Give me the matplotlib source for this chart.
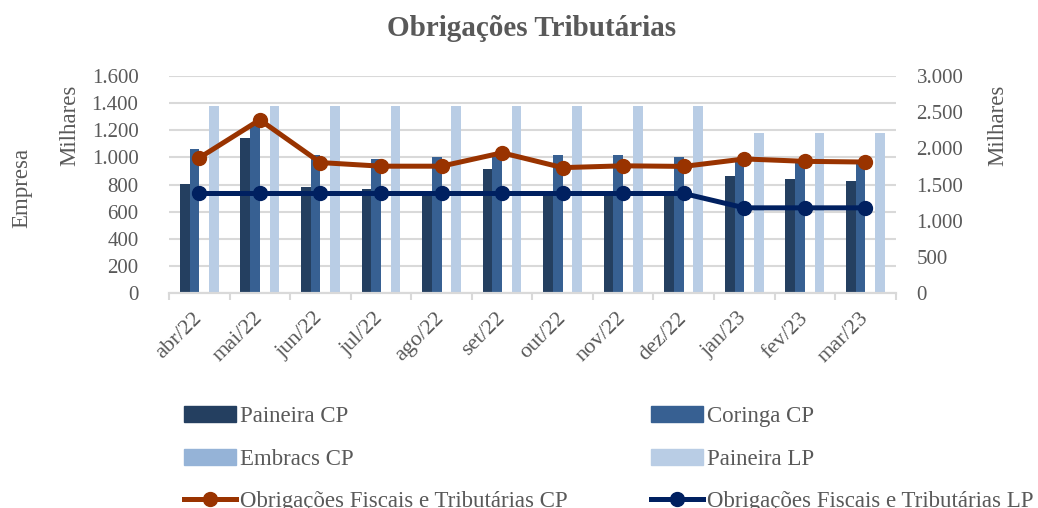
import numpy as np
import matplotlib
matplotlib.use('Agg')
import matplotlib.pyplot as plt
from matplotlib.patches import Patch
from matplotlib.lines import Line2D

# data (milhares)
months = ['abr/22', 'mai/22', 'jun/22', 'jul/22', 'ago/22', 'set/22',
          'out/22', 'nov/22', 'dez/22', 'jan/23', 'fev/23', 'mar/23']
paineira_cp = [805, 1145, 780, 765, 750, 915, 720, 745, 750, 865, 840, 825]
coringa_cp = [1060, 1250, 1020, 990, 1005, 1020, 1015, 1015, 1000, 990, 980, 985]
embracs_cp = [0, 0, 0, 0, 0, 0, 0, 0, 0, 0, 0, 0]
paineira_lp = [1378, 1378, 1378, 1378, 1378, 1378, 1378, 1378, 1378, 1180, 1180, 1180]
obrig_cp = [1870, 2395, 1805, 1755, 1755, 1940, 1735, 1760, 1752, 1855, 1822, 1812]
obrig_lp = [1378, 1378, 1378, 1378, 1378, 1378, 1378, 1378, 1378, 1180, 1180, 1180]

plt.rcParams['font.family'] = ['Liberation Serif', 'DejaVu Serif']
txt = '#595959'
grid_c = '#d9d9d9'

fig = plt.figure(figsize=(10.38, 5.08), dpi=100)
ax = fig.add_axes([0.1628, 0.4226, 0.7001, 0.4278])
ax2 = ax.twinx()

x = np.arange(len(months))
w = 0.16
bars = [(paineira_cp, '#243F60', 'Paineira CP'),
        (coringa_cp, '#376092', 'Coringa CP'),
        (embracs_cp, '#95B3D7', 'Embracs CP'),
        (paineira_lp, '#B9CDE5', 'Paineira LP')]
for k, (vals, col, lab) in enumerate(bars):
    ax.bar(x + (k - 1.5) * w, vals, width=w, color=col, zorder=2)

lw, ms = 3.6, 10
ax2.plot(x, obrig_cp, color='#993300', lw=lw, marker='o', ms=ms, zorder=3)
ax2.plot(x, obrig_lp, color='#002060', lw=lw, marker='o', ms=ms, zorder=3)

ax.set_xlim(-0.5, len(months) - 0.5)
ax.set_ylim(0, 1600)
ax2.set_ylim(0, 3000)
ax.set_yticks(np.arange(0, 1601, 200))
ax2.set_yticks(np.arange(0, 3001, 500))
fmt = lambda v, p: f'{int(v):,}'.replace(',', '.')
ax.yaxis.set_major_formatter(plt.FuncFormatter(fmt))
ax2.yaxis.set_major_formatter(plt.FuncFormatter(fmt))
ax.grid(axis='y', color=grid_c, lw=1.5, zorder=0)
ax.set_axisbelow(True)

for a in (ax, ax2):
    for s in ['top', 'left', 'right']:
        a.spines[s].set_visible(False)
    a.spines['bottom'].set_color(grid_c)
    a.spines['bottom'].set_linewidth(1.5)
    a.tick_params(axis='y', length=0, labelsize=15, labelcolor=txt)
ax.tick_params(axis='y', pad=22)
ax2.tick_params(axis='y', pad=15)

ax.set_xticks(x)
ax.set_xticklabels(months, rotation=45, ha='right', va='center',
                   rotation_mode='anchor', fontsize=16, color=txt)
ax.tick_params(axis='x', which='major', length=0, pad=16)
ax.set_xticks(np.arange(-0.5, len(months), 1), minor=True)
ax.tick_params(axis='x', which='minor', length=5, width=1.5, color=grid_c)

ax.set_ylabel('Milhares', fontsize=16.5, color=txt)
ax.yaxis.set_label_coords(-0.1225, 0.775)
ax2.set_ylabel('Milhares', fontsize=16.5, color=txt)
ax2.yaxis.set_label_coords(1.126, 0.775)
fig.text(0.021, 0.63, 'Empresa', rotation=90, fontsize=16.5, color=txt,
         ha='center', va='center')

fig.text(0.5125, 0.943, 'Obrigações Tributárias', fontsize=21, fontweight='bold',
         color=txt, ha='center', va='center')

h = {lab: Patch(color=col) for vals, col, lab in bars}
lcp = Line2D([], [], color='#993300', lw=lw, marker='o', ms=ms)
llp = Line2D([], [], color='#002060', lw=lw, marker='o', ms=ms)
leg_kw = dict(frameon=False, fontsize=16.5, labelcolor=txt, handlelength=2.27,
              handletextpad=0.2, labelspacing=0.93, borderaxespad=0)
fig.legend([h['Paineira CP'], h['Embracs CP'], lcp],
           ['Paineira CP', 'Embracs CP', 'Obrigações Fiscais e Tributárias CP'],
           loc='upper left', bbox_to_anchor=(0.168, 0.218), **leg_kw)
fig.legend([h['Coringa CP'], h['Paineira LP'], llp],
           ['Coringa CP', 'Paineira LP', 'Obrigações Fiscais e Tributárias LP'],
           loc='upper left', bbox_to_anchor=(0.618, 0.218), **leg_kw)

fig.savefig('out.png', dpi=100)
